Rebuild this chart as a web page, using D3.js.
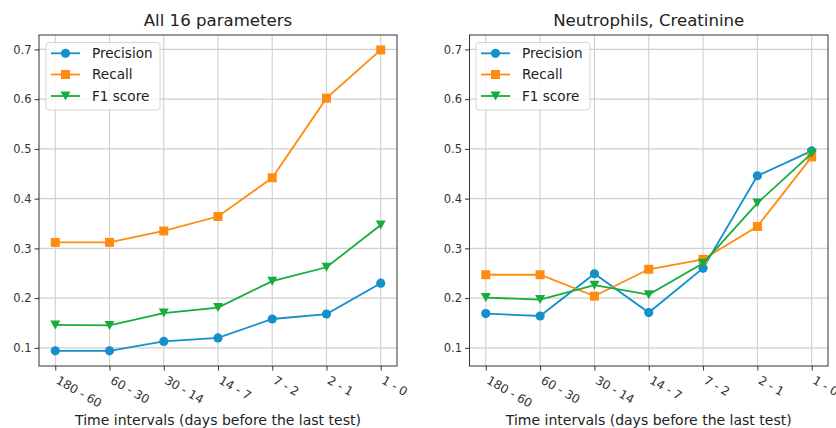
<!DOCTYPE html>
<html>
<head>
<meta charset="utf-8">
<script src="https://cdn.jsdelivr.net/npm/d3@7"></script>
<style>
  html, body { margin: 0; padding: 0; background: #fff; }
  svg { display: block; font-family: "DejaVu Sans", sans-serif; }
</style>
</head>
<body>
<svg id="chart" width="836" height="428"></svg>
<script>
// Time windows before the last test
const intervals = ["180 - 60", "60 - 30", "30 - 14", "14 - 7", "7 - 2", "2 - 1", "1 - 0"];
const yTicks = [0.1, 0.2, 0.3, 0.4, 0.5, 0.6, 0.7];
const seriesNames = ["Precision", "Recall", "F1 score"];

// Model using all 16 parameters
const allPrecision = [0.094, 0.094, 0.113, 0.120, 0.158, 0.168, 0.230];
const allRecall    = [0.312, 0.312, 0.335, 0.364, 0.442, 0.602, 0.699];
const allF1        = [0.146, 0.145, 0.170, 0.181, 0.234, 0.262, 0.347];

// Model using neutrophils and creatinine only
const ncPrecision = [0.169, 0.164, 0.249, 0.171, 0.260, 0.446, 0.496];
const ncRecall    = [0.247, 0.247, 0.204, 0.258, 0.278, 0.344, 0.484];
const ncF1        = [0.201, 0.197, 0.226, 0.207, 0.270, 0.391, 0.491];

const colors = ["#1590cc", "#ff8c12", "#17ad3b"];
const markers = ["circle", "square", "triangle"];

const svg = d3.select("#chart");

const plotTop = 35, plotBottom = 366;
const y = d3.scaleLinear().domain([0.0635, 0.729]).range([plotBottom, plotTop]);

function markerPath(kind) {
  if (kind === "circle") return d3.symbol(d3.symbolCircle, Math.PI * 4.6 * 4.6)();
  if (kind === "square") return d3.symbol(d3.symbolSquare, 9 * 9)();
  // downward-pointing triangle
  const s = 5;
  return `M${-s},${-s * 0.9}L${s},${-s * 0.9}L0,${s * 0.9}Z`;
}

function panel(left, right, title, data, legendX) {
  const g = svg.append("g");
  const x = d3.scaleLinear().domain([-0.3, intervals.length - 1 + 0.3]).range([left, right]);

  // grid
  g.append("g").selectAll("line").data(intervals).join("line")
    .attr("x1", (d, i) => x(i)).attr("x2", (d, i) => x(i))
    .attr("y1", plotTop).attr("y2", plotBottom)
    .attr("stroke", "#cfcfcf").attr("stroke-width", 1.1);
  g.append("g").selectAll("line").data(yTicks).join("line")
    .attr("x1", left).attr("x2", right)
    .attr("y1", d => y(d)).attr("y2", d => y(d))
    .attr("stroke", "#cfcfcf").attr("stroke-width", 1.1);

  // axes
  const yAxis = d3.axisLeft(y).tickValues(yTicks).tickSize(4.5).tickPadding(3).tickFormat(d3.format(".1f"));
  const ya = g.append("g").attr("transform", `translate(${left},0)`).call(yAxis);
  ya.select(".domain").remove();
  ya.selectAll("line").attr("stroke", "#333");
  ya.selectAll("text").attr("fill", "#333").style("font-size", "11.5px").style("font-family", "DejaVu Sans");

  const xAxis = d3.axisBottom(x).tickValues(d3.range(intervals.length)).tickSize(4.5).tickFormat(i => intervals[i]);
  const xa = g.append("g").attr("transform", `translate(0,${plotBottom})`).call(xAxis);
  xa.select(".domain").remove();
  xa.selectAll("line").attr("stroke", "#333");
  xa.selectAll("text")
    .attr("fill", "#333")
    .style("font-size", "12px").style("font-family", "DejaVu Sans")
    .attr("text-anchor", "start")
    .attr("y", 0).attr("dy", "0.75em")
    .attr("transform", "translate(4,9) rotate(30)");

  // frame
  g.append("rect").attr("x", left).attr("y", plotTop)
    .attr("width", right - left).attr("height", plotBottom - plotTop)
    .attr("fill", "none").attr("stroke", "#333").attr("stroke-width", 1);

  // series
  const line = d3.line().x((d, i) => x(i)).y(d => y(d));
  data.forEach((vals, s) => {
    g.append("path").datum(vals).attr("d", line)
      .attr("fill", "none").attr("stroke", colors[s]).attr("stroke-width", 1.8);
    g.append("g").selectAll("path").data(vals).join("path")
      .attr("d", markerPath(markers[s]))
      .attr("transform", (d, i) => `translate(${x(i)},${y(d)})`)
      .attr("fill", colors[s]);
  });

  // title and axis label
  svg.append("text").attr("x", (left + right) / 2).attr("y", 26)
    .attr("text-anchor", "middle").attr("fill", "#222")
    .style("font-size", "16.6px").text(title);
  svg.append("text").attr("x", (left + right) / 2).attr("y", 425)
    .attr("text-anchor", "middle").attr("fill", "#222")
    .style("font-size", "14px").text("Time intervals (days before the last test)");

  // legend
  const lg = g.append("g");
  lg.append("rect").attr("x", legendX).attr("y", 42.5).attr("width", 114).attr("height", 67.5)
    .attr("rx", 3).attr("fill", "#fff").attr("fill-opacity", 0.8)
    .attr("stroke", "#d6d6d6").attr("stroke-width", 1);
  const rowY = [53.3, 74.5, 96];
  seriesNames.forEach((name, s) => {
    const ry = rowY[s];
    lg.append("line").attr("x1", legendX + 5).attr("x2", legendX + 34)
      .attr("y1", ry).attr("y2", ry).attr("stroke", colors[s]).attr("stroke-width", 1.8);
    lg.append("path").attr("d", markerPath(markers[s]))
      .attr("transform", `translate(${legendX + 19.5},${ry})`).attr("fill", colors[s]);
    lg.append("text").attr("x", legendX + 46).attr("y", ry).attr("dy", "0.36em")
      .attr("fill", "#222").style("font-size", "13.6px").text(name);
  });
}

panel(39, 397, "All 16 parameters", [allPrecision, allRecall, allF1], 46);
panel(469.5, 828, "Neutrophils, Creatinine", [ncPrecision, ncRecall, ncF1], 476);
</script>
</body>
</html>
